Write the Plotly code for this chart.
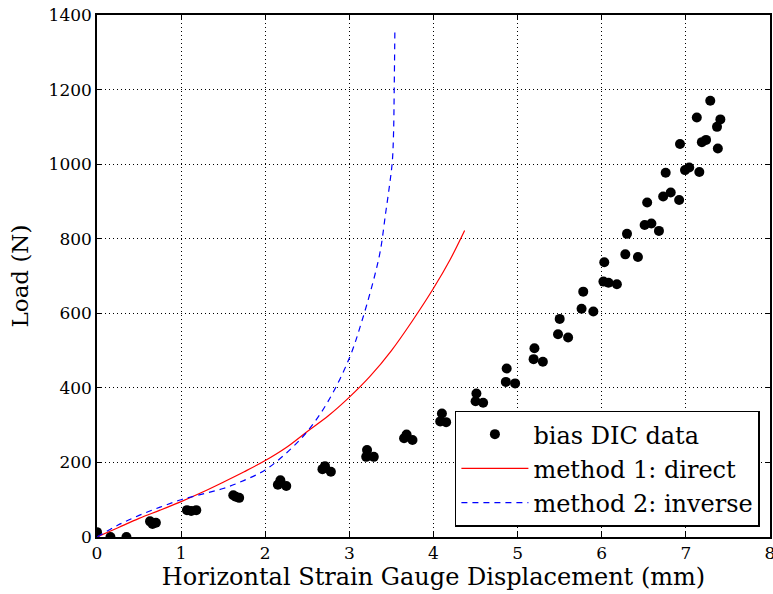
import plotly.graph_objects as go

# DIC data
dic_x = [0.00, 0.16, 0.35,
         0.63, 0.66, 0.70,
         1.07, 1.12, 1.18,
         1.62, 1.65, 1.69,
         2.15, 2.18, 2.25,
         2.68, 2.71, 2.78,
         3.20, 3.21, 3.29,
         3.65, 3.68, 3.75,
         4.08, 4.10, 4.15,
         4.50, 4.51, 4.59,
         4.86, 4.87, 4.97,
         5.19, 5.20, 5.30,
         5.48, 5.50, 5.60,
         5.76, 5.78, 5.90,
         6.02, 6.03, 6.08, 6.18,
         6.28, 6.30, 6.43,
         6.51, 6.54, 6.59, 6.68,
         6.73, 6.76, 6.82, 6.92,
         6.93, 6.99, 7.04, 7.16,
         7.13, 7.19, 7.24, 7.38,
         7.29, 7.37, 7.41]
dic_y = [13, 0, 0,
         42, 35, 38,
         72, 70, 72,
         112, 108, 105,
         140, 152, 137,
         182, 190, 175,
         215, 233, 215,
         265, 275, 260,
         310, 331, 308,
         364, 385, 360,
         416, 452, 412,
         477, 506, 470,
         544, 585, 535,
         612, 658, 605,
         685, 737, 682, 678,
         758, 813, 751,
         837, 897, 841, 821,
         913, 977, 924, 904,
         1054, 984, 991, 979,
         1125, 1059, 1065, 1042,
         1170, 1100, 1120]

# method 1: direct
m1_x = [0.0, 0.25, 0.5, 0.75, 1.0, 1.25, 1.5, 1.75, 2.0, 2.25, 2.5, 2.75,
        3.0, 3.25, 3.5, 3.75, 4.0, 4.2, 4.37]
m1_y = [0, 25, 50, 72, 95, 120, 147, 175, 205, 240, 283, 325,
        375, 432, 500, 580, 667, 745, 822]

# method 2: inverse
m2_x = [0.0, 0.25, 0.5, 0.75, 1.0, 1.25, 1.5, 1.75, 2.0, 2.25, 2.5, 2.75,
        3.0, 3.15, 3.3, 3.37, 3.43, 3.48, 3.51, 3.525, 3.533, 3.541]
m2_y = [0, 32, 58, 80, 100, 115, 130, 152, 180, 225, 283, 365,
        480, 580, 700, 770, 867, 948, 1006, 1082, 1200, 1365]

x_ticks = [0, 1, 2, 3, 4, 5, 6, 7, 8]
y_ticks = [0, 200, 400, 600, 800, 1000, 1200, 1400]

FONT = "DejaVu Serif"

fig = go.Figure()
fig.add_trace(go.Scatter(x=dic_x, y=dic_y, mode="markers", name="bias DIC data",
                         legendgroup="a",
                         marker=dict(color="black", size=10, line=dict(width=0))))
fig.add_trace(go.Scatter(x=m1_x, y=m1_y, mode="lines", name="method 1: direct",
                         legendgroup="b",
                         line=dict(color="red", width=1.2, shape="spline")))
fig.add_trace(go.Scatter(x=m2_x, y=m2_y, mode="lines", name="method 2: inverse",
                         legendgroup="c",
                         line=dict(color="blue", width=1.2, dash="6px,5px", shape="spline")))

axis_common = dict(showline=True, linecolor="black", linewidth=1.5, mirror="ticks",
                   ticks="inside", ticklen=5, tickcolor="black", tickwidth=1,
                   showgrid=True, gridcolor="black", gridwidth=1, griddash="1px,3px",
                   zeroline=False, ticklabeloverflow="allow",
                   tickfont=dict(family=FONT, size=17, color="black"))

fig.update_xaxes(range=[0, 8], tickvals=x_ticks, ticktext=[str(v) for v in x_ticks],
                 title=dict(text="Horizontal Strain Gauge Displacement (mm)",
                            font=dict(family=FONT, size=24, color="black"), standoff=5),
                 **axis_common)
fig.update_yaxes(range=[0, 1400], tickvals=y_ticks, ticktext=[str(v) for v in y_ticks],
                 title=dict(text="Load (N)", font=dict(family=FONT, size=23, color="black"),
                            standoff=14),
                 **axis_common)

fig.update_layout(
    width=773, height=594,
    margin=dict(l=97, r=3, t=15, b=57, autoexpand=False),
    plot_bgcolor="white", paper_bgcolor="white",
    font=dict(family=FONT, color="black"),
    showlegend=True,
    legend=dict(x=0.985, y=0.02, xanchor="right", yanchor="bottom",
                bgcolor="white", bordercolor="black", borderwidth=1.5,
                font=dict(family=FONT, size=24, color="black"),
                itemwidth=67, tracegroupgap=0, entrywidth=237),
)

fig.write_html("out.html")
